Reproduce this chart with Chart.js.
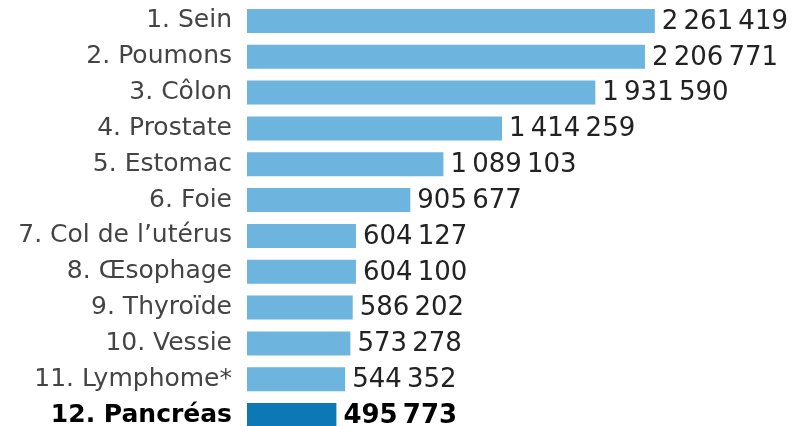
<!DOCTYPE html>
<html>
<head>
<meta charset="utf-8">
<script src="https://cdn.jsdelivr.net/npm/chart.js@4/dist/chart.umd.min.js"></script>
<style>
    html, body { margin: 0; padding: 0; background: #fff; overflow: hidden; }
    #chart { display: block; }
</style>
</head>
<body>
<canvas id="chart" width="801" height="436"></canvas>
<script>
// Data
const categories = ['1. Sein', '2. Poumons', '3. Côlon', '4. Prostate', '5. Estomac', '6. Foie',
    '7. Col de l’utérus', '8. Œsophage', '9. Thyroïde', '10. Vessie', '11. Lymphome*', '12. Pancréas'];
const cases = [2261419, 2206771, 1931590, 1414259, 1089103, 905677,
    604127, 604100, 586202, 573278, 544352, 495773];
const highlighted = [11];

const LIGHT = '#6db5de';
const DARK = '#0c78b6';
const FONT = "'DejaVu Sans', 'Liberation Sans', sans-serif";

// "2261419" -> "2 261 419" with thin spaces
function formatNumber(n) {
    return String(n).replace(/\B(?=(\d{3})+(?!\d))/g, '\u2009');
}

// Draw the value at the end of every bar
const valueLabels = {
    id: 'valueLabels',
    afterDatasetsDraw(chart) {
        const ctx = chart.ctx;
        const meta = chart.getDatasetMeta(0);
        ctx.save();
        ctx.textBaseline = 'middle';
        ctx.textAlign = 'left';
        meta.data.forEach((bar, i) => {
            const bold = highlighted.includes(i);
            ctx.font = (bold ? 'bold ' : '') + '26px ' + FONT;
            ctx.fillStyle = bold ? '#000' : '#222';
            ctx.fillText(formatNumber(cases[i]), bar.x + 7, bar.y + 1);
        });
        ctx.restore();
    }
};

new Chart(document.getElementById('chart'), {
    type: 'bar',
    data: {
        labels: categories,
        datasets: [{
            data: cases,
            backgroundColor: cases.map((v, i) => highlighted.includes(i) ? DARK : LIGHT),
            borderWidth: 0,
            barPercentage: 0.67,
            categoryPercentage: 1
        }]
    },
    options: {
        indexAxis: 'y',
        responsive: false,
        animation: false,
        devicePixelRatio: 1,
        layout: { padding: { top: 3, right: 13, bottom: 3, left: 0 } },
        plugins: {
            legend: { display: false },
            tooltip: { enabled: false }
        },
        scales: {
            x: {
                display: false,
                min: 0,
                max: 3000000
            },
            y: {
                afterFit(scale) {
                    scale.width = 247;
                    scale.paddingTop = 0;
                    scale.paddingBottom = 0;
                },
                grid: { display: false, drawTicks: false },
                border: { display: false },
                ticks: {
                    padding: 15,
                    color: (c) => highlighted.includes(c.index) ? '#000' : '#444',
                    font: (c) => ({
                        family: FONT,
                        size: 25,
                        weight: highlighted.includes(c.index) ? 'bold' : 'normal'
                    })
                }
            }
        }
    },
    plugins: [valueLabels]
});
</script>
</body>
</html>
